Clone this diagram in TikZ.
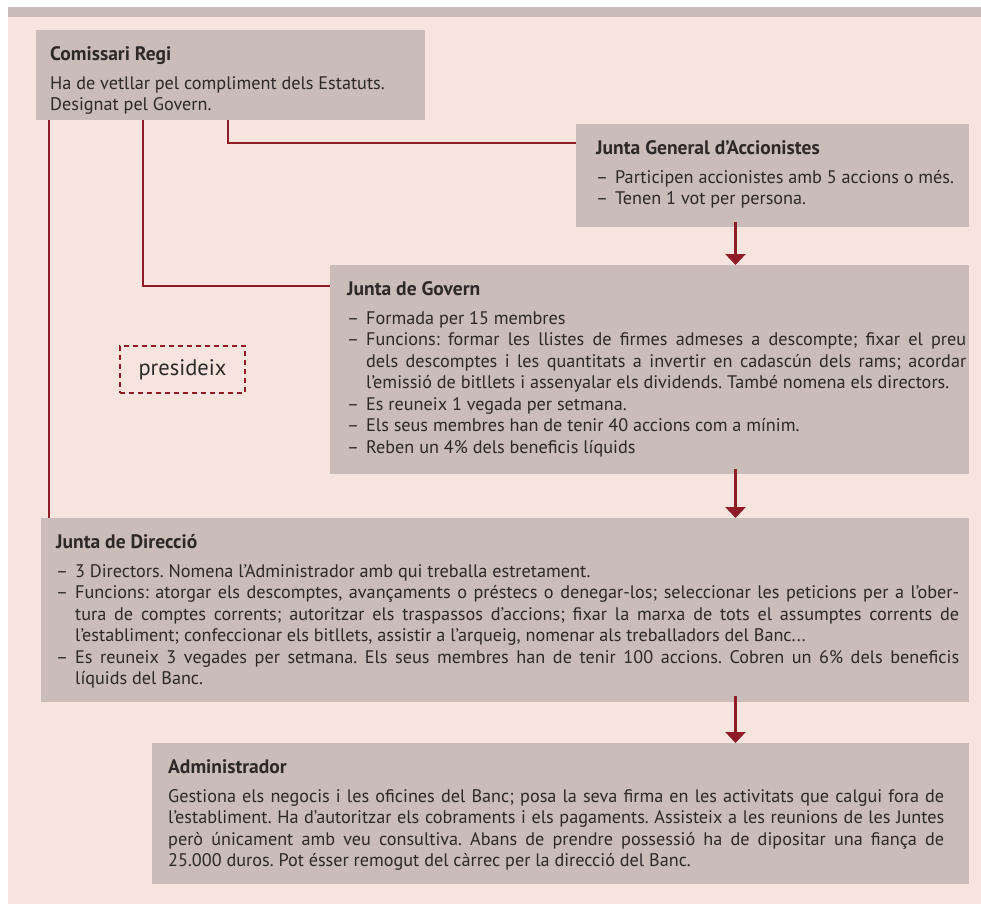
\documentclass[tikz,border=0pt]{standalone}
\usepackage{xcolor}
\usepackage{fontspec}
\setmainfont{PT Sans}
\usepackage{tikz}
\usetikzlibrary{arrows.meta, positioning}

\definecolor{fons}{HTML}{F7E4DF}
\definecolor{caixa}{HTML}{C9BCB9}
\definecolor{granat}{HTML}{8E1B25}
\definecolor{lletra}{HTML}{2E2827}

\newcommand{\guio}{\par\hangindent=19pt\hangafter=1\makebox[19pt][l]{–}}
\newcommand{\titol}[1]{\rule{0pt}{30pt}{\fontsize{19.5}{21.5}\selectfont\bfseries #1}\par\vskip 7.5pt}
\newcommand{\bloc}[5]{\parbox[t][#1][t]{#2}{\fontsize{18.2}{21.5}\selectfont\frenchspacing
	\tolerance=9999\hyphenpenalty=10000\exhyphenpenalty=10000
	\leftskip=#3\rightskip=#4\relax #5}}

\begin{document}
\begin{tikzpicture}[x=1pt, y=-1pt,
			caixa/.style={fill=caixa, inner sep=0pt, anchor=north west, text=lletra},
			linia/.style={draw=granat, line width=2.6pt},
			fletxa/.style={linia, -{Triangle[width=20pt,length=11pt]}},
			presidencia/.style={draw=granat, line width=1.3pt, dash pattern=on 5pt off 4pt,
				minimum width=125pt, minimum height=47pt, inner sep=0pt, text=lletra,
				font=\fontsize{22.5}{24}\selectfont}]

			\useasboundingbox (0,0) rectangle (981,904);
			\fill[fons] (8,17) rectangle (981,904);
			\fill[caixa] (8,7) rectangle (981,17);

			\node[caixa] (com) at (36,30) {\bloc{90pt}{389pt}{14pt}{0pt}{\titol{Comissari Regi}%
				Ha de vetllar pel compliment dels Estatuts.\par Designat pel Govern.}};

			\node[caixa] (jga) at (576,124) {\bloc{103pt}{393pt}{20pt}{0pt}{\titol{Junta General d’Accionistes}%
				\guio Participen accionistes amb 5 accions o més.
				\guio Tenen 1 vot per persona.}};

			\node[caixa] (jg) at (330,265) {\bloc{209pt}{639pt}{17pt}{3pt}{\titol{Junta de Govern}%
				\guio Formada per 15 membres
				\guio Funcions: formar les llistes de firmes admeses a descompte; fixar el preu\linebreak
				dels descomptes i les quantitats a invertir en cadascún dels rams; acordar\linebreak
				l’emissió de bitllets i assenyalar els dividends. També nomena els directors.
				\guio Es reuneix 1 vegada per setmana.
				\guio Els seus membres han de tenir 40 accions com a mínim.
				\guio Reben un 4\% dels beneficis líquids}};

			\node[caixa] (jd) at (41,518) {\bloc{184pt}{928pt}{15pt}{10pt}{\titol{Junta de Direcció}%
				\guio 3 Directors. Nomena l’Administrador amb qui treballa estretament.
				\guio Funcions: atorgar els descomptes, avançaments o préstecs o denegar-los; seleccionar les peticions per a l’ober-\linebreak
				tura de comptes corrents; autoritzar els traspassos d’accions; fixar la marxa de tots el assumptes corrents de\linebreak
				l’establiment; confeccionar els bitllets, assistir a l’arqueig, nomenar als treballadors del Banc...
				\guio Es reuneix 3 vegades per setmana. Els seus membres han de tenir 100 accions. Cobren un 6\% dels beneficis\linebreak
				líquids del Banc.}};

			\node[caixa] (adm) at (152,743) {\bloc{141pt}{817pt}{16pt}{25pt}{\titol{Administrador}%
				Gestiona els negocis i les oficines del Banc; posa la seva firma en les activitats que calgui fora de\linebreak
				l’establiment. Ha d’autoritzar els cobraments i els pagaments. Assisteix a les reunions de les Juntes\linebreak
				però únicament amb veu consultiva. Abans de prendre possessió ha de dipositar una fiança de\linebreak
				25.000 duros. Pot ésser remogut del càrrec per la direcció del Banc.}};

			\node[presidencia] (pres) at (182.5,369.5) {presideix};

			\draw[linia] ([xshift=192pt]com.south west) |- ([yshift=-19pt]jga.north west);
			\draw[linia] ([xshift=107pt]com.south west) |- ([yshift=-21pt]jg.north west);
			\draw[linia] ([xshift=13pt]com.south west) -- ([xshift=8pt]jd.north west);

			\draw[fletxa] ([xshift=159.5pt, yshift=5pt]jga.south west) -- ([xshift=159.5pt]jga.south west |- jg.north);
			\draw[fletxa] ([xshift=405.5pt, yshift=5pt]jg.south west) -- ([xshift=405.5pt]jg.south west |- jd.north);
			\draw[fletxa] ([xshift=694.5pt, yshift=6pt]jd.south west) -- ([xshift=694.5pt]jd.south west |- adm.north);
		\end{tikzpicture}
\end{document}
